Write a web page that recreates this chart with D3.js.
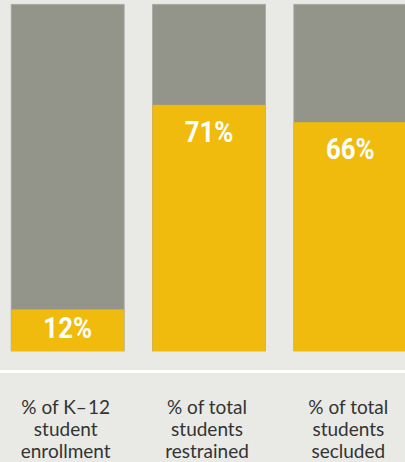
<!DOCTYPE html>
<html>
<head>
<meta charset="utf-8">
<script src="https://cdn.jsdelivr.net/npm/d3@7"></script>
<style>
  html, body { margin: 0; padding: 0; background: #e9eae6; }
  svg { display: block; }
</style>
</head>
<body>
<svg id="chart" width="405" height="462"></svg>
<script>
const categories = ["enrollment", "restrained", "secluded"];
const values = [12, 71, 66];
const valueLabels = ["12%", "71%", "66%"];
const axisLabels = [
  ["% of K\u2013\u200A12", "student", "enrollment"],
  ["% of total", "students", "restrained"],
  ["% of total", "students", "secluded"]
];

const svg = d3.select("#chart");
const W = 405, H = 462;

svg.append("rect").attr("width", W).attr("height", H).attr("fill", "#e9eae6");

const x = d3.scaleBand().domain(categories).range([-3, 421]).paddingInner(0.2).paddingOuter(0.1);
const y = d3.scaleLinear().domain([0, 100]).range([351, 4.3]);

const g = svg.append("g");

// background (100%) bars
g.selectAll("rect.bg").data(categories).join("rect")
  .attr("class", "bg")
  .attr("x", d => x(d)).attr("width", x.bandwidth())
  .attr("y", y(100)).attr("height", y(0) - y(100))
  .attr("fill", "#93958b")
  .attr("stroke", "#a9aba2").attr("stroke-width", 0.8);

// value bars
g.selectAll("rect.val").data(categories).join("rect")
  .attr("class", "val")
  .attr("x", d => x(d)).attr("width", x.bandwidth())
  .attr("y", (d, i) => y(values[i])).attr("height", (d, i) => y(0) - y(values[i]))
  .attr("fill", "#f0bb0c");

// value labels
g.selectAll("text.val").data(categories).join("text")
  .attr("class", "val")
  .attr("transform", (d, i) => {
    const top = y(values[i]);
    const h = y(0) - top;
    const ty = h < 60 ? top + h / 2 + 8 : top + 37;
    return `translate(${x(d) + x.bandwidth() / 2},${ty}) scale(0.86,1)`;
  })
  .attr("text-anchor", "middle")
  .attr("fill", "#ffffff")
  .style("font-family", "Roboto, 'Liberation Sans', sans-serif")
  .style("font-weight", "bold")
  .style("font-size", "30px")
  .text((d, i) => valueLabels[i]);

// white divider
svg.append("rect").attr("x", 0).attr("y", 370).attr("width", W).attr("height", 3).attr("fill", "#ffffff");

// axis labels
categories.forEach((c, i) => {
  const t = svg.append("text")
    .attr("text-anchor", "middle")
    .attr("fill", "#333333")
    .style("font-family", "Lato, 'Noto Sans', sans-serif")
    .style("font-size", "19px");
  axisLabels[i].forEach((line, j) => {
    t.append("tspan")
      .attr("x", x(c) + x.bandwidth() / 2 - 2)
      .attr("y", 414 + j * 22)
      .text(line);
  });
});
</script>
</body>
</html>
